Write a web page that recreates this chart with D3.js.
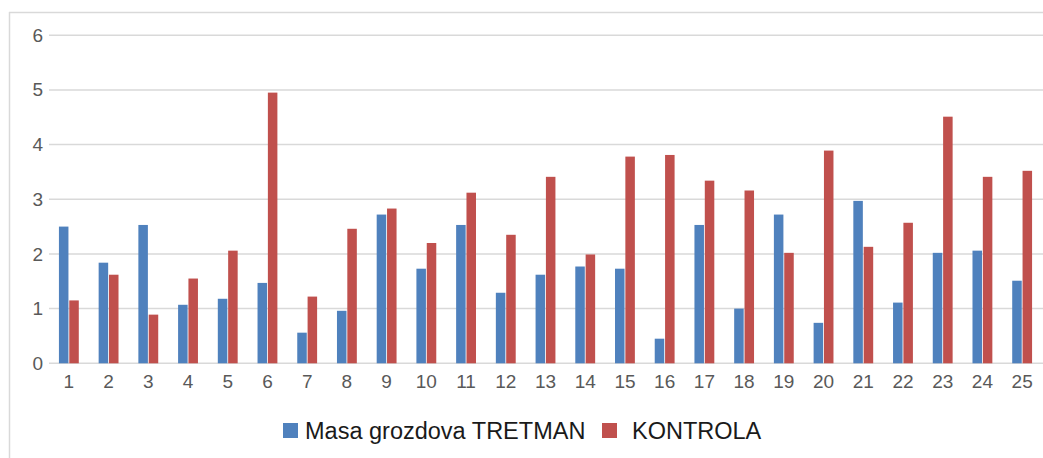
<!DOCTYPE html>
<html>
<head>
<meta charset="utf-8">
<script src="https://cdn.jsdelivr.net/npm/d3@7"></script>
<style>
  body { margin: 0; background: #fff; }
  svg { display: block; }
</style>
</head>
<body>
<div id="chart"></div>
<script>
// categories and series
var categories = ["1","2","3","4","5","6","7","8","9","10","11","12","13","14","15","16","17","18","19","20","21","22","23","24","25"];
var seriesNames = ["Masa grozdova TRETMAN", "KONTROLA"];
var tretman = [2.50,1.84,2.53,1.07,1.18,1.47,0.56,0.96,2.72,1.73,2.53,1.29,1.62,1.77,1.73,0.45,2.53,1.00,2.72,0.74,2.97,1.11,2.02,2.06,1.51];
var kontrola = [1.15,1.62,0.89,1.55,2.06,4.95,1.22,2.46,2.83,2.20,3.12,2.35,3.41,1.99,3.78,3.81,3.34,3.16,2.02,3.89,2.13,2.57,4.51,3.41,3.52];
var yTicks = [0,1,2,3,4,5,6];
var colors = ["#4f81bd", "#c0504d"];

var w = 1043, h = 458;

var svg = d3.select("#chart").append("svg")
    .attr("width", w)
    .attr("height", h);

// chart frame (only left and top edges are visible)
svg.append("line")
    .attr("x1", 9.5).attr("x2", 9.5).attr("y1", 12).attr("y2", h)
    .attr("stroke", "#d9d9d9").attr("stroke-width", 1.5);
svg.append("line")
    .attr("x1", 9).attr("x2", w).attr("y1", 12.5).attr("y2", 12.5)
    .attr("stroke", "#d9d9d9").attr("stroke-width", 1.5);

var xScale = d3.scaleBand()
    .domain(categories)
    .range([49, 1042]);

var yScale = d3.scaleLinear()
    .domain([0, 6])
    .range([363.3, 35.2]);

// inner scale for the two bars in each category
var groupW = xScale.bandwidth() * 0.5;
var x1 = d3.scaleBand()
    .domain(seriesNames)
    .range([0, groupW])
    .paddingInner(0.08);

// gridlines
svg.append("g")
    .selectAll("line")
    .data(yTicks)
    .enter().append("line")
    .attr("x1", 49)
    .attr("x2", w)
    .attr("y1", function (d) { return yScale(d); })
    .attr("y2", function (d) { return yScale(d); })
    .attr("stroke", "#d9d9d9")
    .attr("stroke-width", 1.5);

// y axis labels
var yAxis = d3.axisLeft(yScale)
    .tickValues(yTicks)
    .tickFormat(d3.format("d"))
    .tickSize(0)
    .tickPadding(0);
var gy = svg.append("g")
    .attr("transform", "translate(43,0)")
    .call(yAxis);
gy.select(".domain").remove();
gy.selectAll("text")
    .attr("fill", "#595959")
    .style("font-family", "'Liberation Sans', Arial, sans-serif")
    .style("font-size", "19px");

// x axis labels
var xAxis = d3.axisBottom(xScale)
    .tickSize(0)
    .tickPadding(0);
var gx = svg.append("g")
    .attr("transform", "translate(0,374)")
    .call(xAxis);
gx.select(".domain").remove();
gx.selectAll("text")
    .attr("fill", "#595959")
    .attr("dy", "0.75em")
    .style("font-family", "'Liberation Sans', Arial, sans-serif")
    .style("font-size", "19px");

// bars
var rows = categories.map(function (c, i) {
    return { cat: c, vals: [tretman[i], kontrola[i]] };
});

var groups = svg.append("g")
    .selectAll("g")
    .data(rows)
    .enter().append("g")
    .attr("transform", function (d) {
        return "translate(" + (xScale(d.cat) + (xScale.bandwidth() - groupW) / 2) + ",0)";
    });

groups.selectAll("rect")
    .data(function (d) {
        return d.vals.map(function (v, k) { return { name: seriesNames[k], v: v, k: k }; });
    })
    .enter().append("rect")
    .attr("x", function (d) { return x1(d.name); })
    .attr("width", x1.bandwidth())
    .attr("y", function (d) { return yScale(d.v); })
    .attr("height", function (d) { return yScale(0) - yScale(d.v); })
    .attr("fill", function (d) { return colors[d.k]; });

// legend
var legendPos = [{ sx: 283, tx: 305 }, { sx: 602, tx: 632 }];
var legend = svg.append("g")
    .selectAll("g")
    .data(seriesNames)
    .enter().append("g");

legend.append("rect")
    .attr("x", function (d, i) { return legendPos[i].sx; })
    .attr("y", 423)
    .attr("width", 15)
    .attr("height", 15)
    .attr("fill", function (d, i) { return colors[i]; });

legend.append("text")
    .attr("x", function (d, i) { return legendPos[i].tx; })
    .attr("y", 438.5)
    .text(function (d) { return d; })
    .attr("fill", "#1a1a1a")
    .style("font-family", "'Liberation Sans', Arial, sans-serif")
    .style("font-size", "23.5px");
</script>
</body>
</html>
